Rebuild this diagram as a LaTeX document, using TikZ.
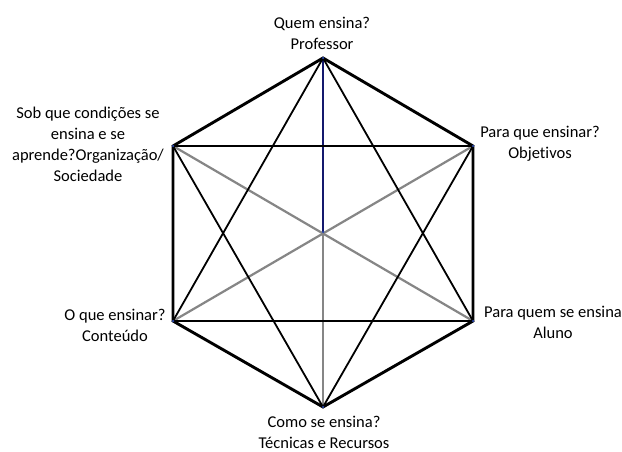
\documentclass[tikz,border=0pt]{standalone}
\usepackage{fontspec}
\setmainfont[Ligatures=NoCommon]{Carlito}
\begin{document}
\begin{tikzpicture}[x=1pt,y=-1pt,
  hexline/.style={line width=2.9pt,black,line join=round,line cap=round},
  starline/.style={line width=1.8pt,black},
  grayline/.style={line width=2.2pt,gray!95},
  blueline/.style={line width=2.2pt,color={rgb,255:red,20;green,25;blue,110}},
  vdot/.style={circle,fill={rgb,255:red,40;green,70;blue,170},inner sep=0pt,minimum size=2.5pt},
  lbl/.style={align=center,font=\fontsize{16.5}{21}\selectfont,inner sep=0pt}]
\useasboundingbox (0,0) rectangle (622,452);
\fill[white] (0,0) rectangle (622,452);
% vertices
\coordinate (T) at (323,58);
\coordinate (UR) at (473,146);
\coordinate (LR) at (473,321);
\coordinate (B) at (323,407);
\coordinate (LL) at (173,321);
\coordinate (UL) at (173,146);
\coordinate (C) at (323,232);
% gray diagonals
\draw[grayline] (UL) -- (LR);
\draw[grayline] (UR) -- (LL);
\draw[grayline] (C) -- (B);
\draw[blueline] (T) -- (C);
% star
\draw[starline] (T) -- (LR) -- (LL) -- cycle;
\draw[starline] (B) -- (UR) -- (UL) -- cycle;
% horizontals
\draw[starline] (LL) -- (LR);
% hexagon
\draw[hexline] (T) -- (UR) -- (LR) -- (B) -- (LL) -- (UL) -- cycle;
% dots
\foreach \p in {T,UR,LR,B,LL,UL,C} \node[vdot] at (\p) {};
% labels
\node[lbl] (lT) at (322,33) {Quem ensina?\\Professor};
\node[lbl] (lUL) at (88,144.5) {Sob que condições se\\ensina e se\\aprende?Organização/\\Sociedade};
\node[lbl] (lUR) at (540,144) {Para que ensinar?\\Objetivos};
\node[lbl] (lLL) at (115,325) {O que ensinar?\\Conteúdo};
\node[lbl] (lLR) at (553,322) {Para quem se ensina\\Aluno};
\node[lbl] (lB) at (324,432.5) {Como se ensina?\\Técnicas e Recursos};
\end{tikzpicture}
\end{document}
